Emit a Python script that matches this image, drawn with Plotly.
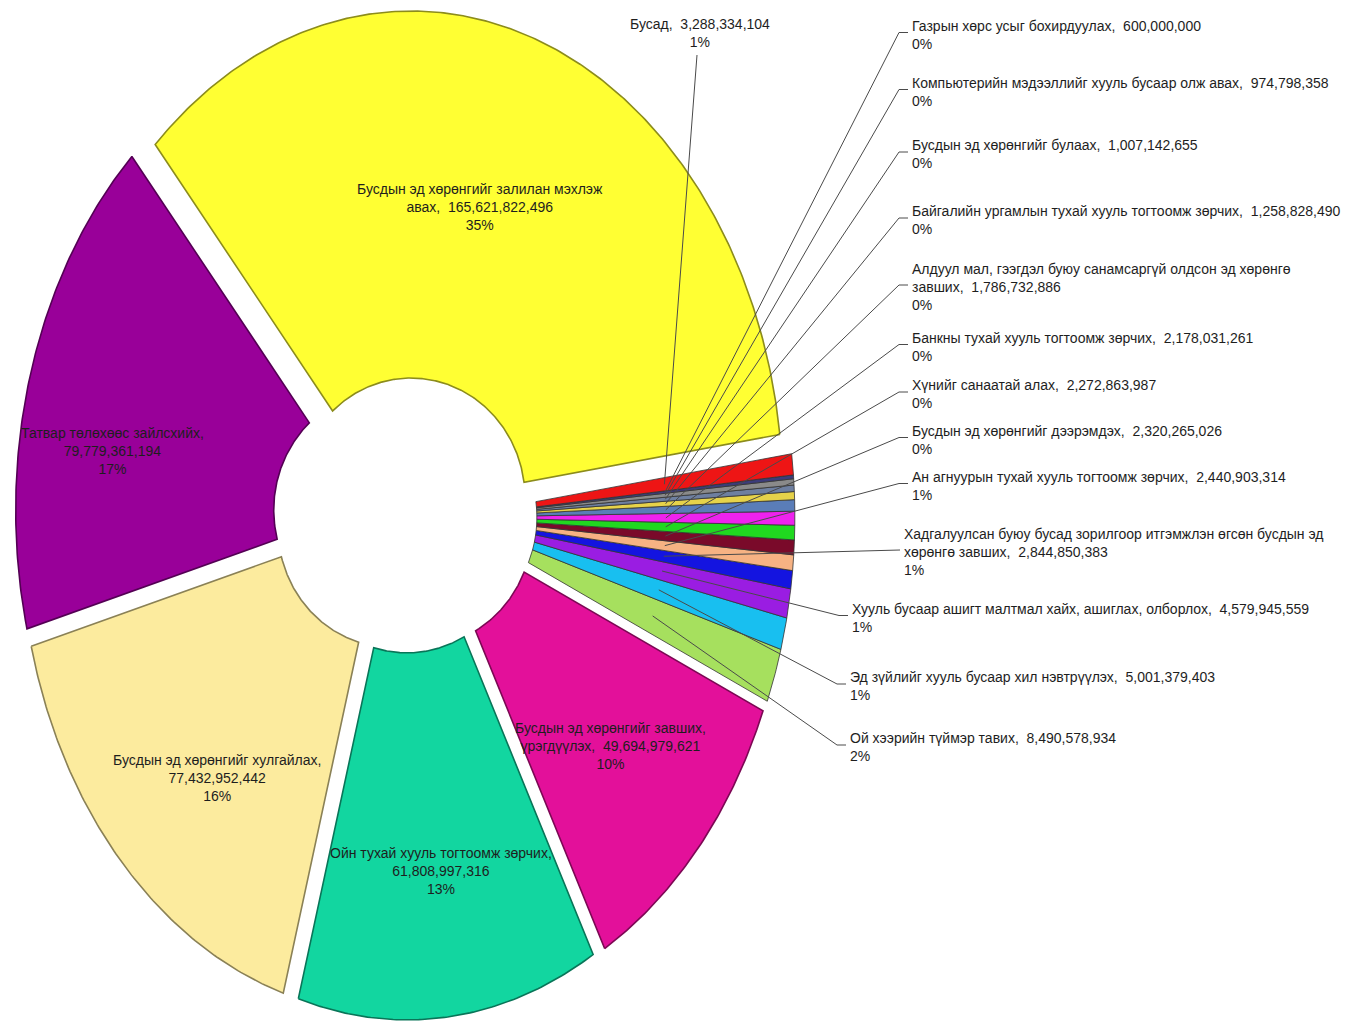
import numpy as np
import plotly.graph_objects as go

# ---------------- data ----------------
categories = [
    "Бусдын эд хөрөнгийг залилан мэхлэж авах",
    "Татвар төлөхөөс зайлсхийх",
    "Бусдын эд хөрөнгийг хулгайлах",
    "Ойн тухай хууль тогтоомж зөрчих",
    "Бусдын эд хөрөнгийг завших, үрэгдүүлэх",
    "Ой хээрийн түймэр тавих",
    "Эд зүйлийг хууль бусаар хил нэвтрүүлэх",
    "Хууль бусаар ашигт малтмал хайх, ашиглах, олборлох",
    "Хадгалуулсан буюу бусад зорилгоор итгэмжлэн өгсөн бусдын эд хөрөнгө завших",
    "Ан агнуурын тухай хууль тогтоомж зөрчих",
    "Бусдын эд хөрөнгийг дээрэмдэх",
    "Хүнийг санаатай алах",
    "Банкны тухай хууль тогтоомж зөрчих",
    "Алдуул мал, гээгдэл буюу санамсаргүй олдсон эд хөрөнгө завших",
    "Байгалийн ургамлын тухай хууль тогтоомж зөрчих",
    "Бусдын эд хөрөнгийг булаах",
    "Компьютерийн мэдээллийг хууль бусаар олж авах",
    "Газрын хөрс усыг бохирдуулах",
    "Бусад",
]
values = [
    165621822496, 79779361194, 77432952442, 61808997316, 49694979621,
    8490578934, 5001379403, 4579945559, 2844850383, 2440903314,
    2320265026, 2272863987, 2178031261, 1786732886, 1258828490,
    1007142655, 974798358, 600000000, 3288334104,
]
colors = [
    "#FFFF33", "#990099", "#FCEB9E", "#12D6A0", "#E3109A",
    "#A6E05E", "#18BFF0", "#9A1DE2", "#1414E0", "#F6B283",
    "#7A0A2A", "#20D820", "#EE22EE", "#5A7DB8", "#E6D24A",
    "#6E7FA0", "#8A8A8A", "#3C3C7A", "#EE1515",
]

# ---------------- label layout (positions / styles) ----------------
# mode: int -> break after that many words, "nl" -> value on new line, "in" -> inline
label_mode = ["in"] * len(categories)
label_mode[0] = 5
label_mode[1] = "nl"
label_mode[2] = "nl"
label_mode[3] = "nl"
label_mode[4] = 4
label_mode[8] = 8
label_mode[13] = 8

inside_pos = {0: (480, 207), 1: (112, 451), 2: (217, 778), 3: (441, 871), 4: (610, 746)}
outside_pos = {
    17: (910, 34.5), 16: (910, 91.5), 15: (910, 154), 14: (910, 220),
    13: (910, 287), 12: (910, 346.5), 11: (910, 394), 10: (910, 439.5),
    9: (910, 485.5), 8: (902, 552), 7: (850, 617.5), 6: (848, 686), 5: (848, 747),
}
top_pos = {18: (700, 33)}

# ---------------- geometry ----------------
cx, cy = 405, 515
rx_o, ry_o = 372, 487
rx_i, ry_i = 114, 120
pull = 18
start_angle = 7.5
n_big = 5

total = float(sum(values))
frac = np.array(values, dtype=float) / total
a0 = start_angle + 360 * np.concatenate([[0], np.cumsum(frac)[:-1]])
a1 = a0 + 360 * frac
mid = (a0 + a1) / 2
group_mid = (a0[n_big] + a1[-1]) / 2
explode = [mid[i] if i < n_big else group_mid for i in range(len(values))]


def pt(angle, fr, ea):
    r = np.radians(angle)
    e = np.radians(ea)
    rx = rx_i + fr * (rx_o - rx_i)
    ry = ry_i + fr * (ry_o - ry_i)
    return (cx + pull * np.cos(e) + rx * np.cos(r),
            cy - pull * np.sin(e) - ry * np.sin(r))


def darken(hexc, k=0.55):
    h = hexc.lstrip("#")
    r, g, b = (int(h[j:j + 2], 16) for j in (0, 2, 4))
    return f"rgb({int(r*k)},{int(g*k)},{int(b*k)})"


def fmt(v):
    return f"{v:,}"


def build_label(i):
    name = categories[i]
    val = fmt(values[i])
    pct = f"{round(frac[i] * 100):.0f}%"
    m = label_mode[i]
    if m == "nl":
        body = f"{name},<br>{val}"
    elif m == "in":
        body = f"{name},  {val}"
    else:
        w = name.split()
        body = " ".join(w[:m]) + "<br>" + " ".join(w[m:]) + ",  " + val
    return body + "<br>" + pct


fig = go.Figure()

for i in range(len(values)):
    n = max(3, int((a1[i] - a0[i]) * 2) + 2)
    t = np.linspace(a0[i], a1[i], n)
    xo, yo = pt(t, 1.0, explode[i])
    xi, yi = pt(t[::-1], 0.0, explode[i])
    xs = np.concatenate([xo, xi, xo[:1]])
    ys = np.concatenate([yo, yi, yo[:1]])
    big = i < n_big
    fig.add_trace(go.Scatter(
        x=xs, y=ys, mode="lines", fill="toself",
        fillcolor=colors[i],
        line=dict(color=darken(colors[i]) if big else "#333333",
                  width=1.6 if big else 0.8),
        name=categories[i],
        text=f"{categories[i]}: {fmt(values[i])} ({frac[i]*100:.1f}%)",
        hoveron="fills", hoverinfo="text",
    ))

# leader lines
lx, ly = [], []
for i, (x0, yc) in outside_pos.items():
    sx, sy = pt(mid[i], 0.5, explode[i])
    lx += [float(sx), x0 - 11, x0 - 2, None]
    ly += [float(sy), yc - 2, yc - 2, None]
for i, (x0, yc) in top_pos.items():
    sx, sy = pt(mid[i], 0.5, explode[i])
    lx += [float(sx), x0 - 3, None]
    ly += [float(sy), yc + 22, None]
fig.add_trace(go.Scatter(x=lx, y=ly, mode="lines",
                         line=dict(color="#4a4a4a", width=1),
                         hoverinfo="skip"))

font = dict(family="Liberation Sans, Arial, sans-serif", size=14, color="#1e1e1e")
ann = []
for i, (x, y) in inside_pos.items():
    ann.append(dict(x=x, y=y, text=build_label(i), showarrow=False,
                    xanchor="center", yanchor="middle", align="center", font=font))
for i, (x, y) in top_pos.items():
    ann.append(dict(x=x, y=y, text=build_label(i), showarrow=False,
                    xanchor="center", yanchor="middle", align="center", font=font))
for i, (x, y) in outside_pos.items():
    ann.append(dict(x=x, y=y, text=build_label(i), showarrow=False,
                    xanchor="left", yanchor="middle", align="left", font=font))

fig.update_layout(
    width=1350, height=1036,
    margin=dict(l=0, r=0, t=0, b=0),
    paper_bgcolor="white", plot_bgcolor="white",
    showlegend=False,
    annotations=ann,
    xaxis=dict(range=[0, 1350], visible=False, fixedrange=True),
    yaxis=dict(range=[1036, 0], visible=False, fixedrange=True),
)

fig.write_html("out.html")
